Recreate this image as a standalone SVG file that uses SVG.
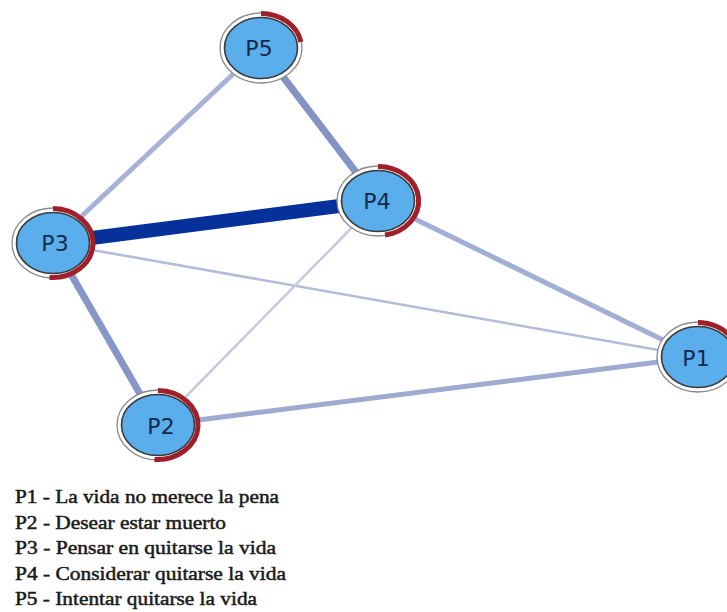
<svg xmlns="http://www.w3.org/2000/svg" width="727" height="612" viewBox="0 0 727 612">
<style>
.edge{fill:none;stroke-linecap:butt}
.outer{fill:#fff;stroke:#8a8a8a;stroke-width:1.3}
.red{fill:none;stroke:#a11f2a;stroke-width:5}
.inner{fill:#5aaeec;stroke:#3a3a3a;stroke-width:1.6}
.lbl{font-family:"DejaVu Sans",Verdana,sans-serif;font-size:22px;fill:#15284a;text-anchor:middle}
.leg{font-family:"Liberation Serif","Times New Roman",serif;font-size:19px;fill:#1a1a1a;stroke:#1a1a1a;stroke-width:0.5}
</style>
<rect width="727" height="612" fill="#fff"/>
<g id="connectors">
<line class="edge" x1="53" y1="243" x2="698" y2="357" stroke="#b3bcd8" stroke-width="2.5"/>
<line class="edge" x1="378" y1="201" x2="158" y2="425" stroke="#c3cbe0" stroke-width="2.5"/>
<line class="edge" x1="158" y1="425" x2="698" y2="357" stroke="#9dabd0" stroke-width="5"/>
<line class="edge" x1="378" y1="201" x2="698" y2="357" stroke="#a2afd4" stroke-width="5"/>
<line class="edge" x1="261" y1="48" x2="53" y2="243" stroke="#a7b3d4" stroke-width="5"/>
<line class="edge" x1="53" y1="243" x2="158" y2="425" stroke="#8696c6" stroke-width="7"/>
<line class="edge" x1="261" y1="48" x2="378" y2="201" stroke="#8393c4" stroke-width="7"/>
<line class="edge" x1="53" y1="243" x2="378" y2="201" stroke="#07319a" stroke-width="14"/>
</g>
<g id="P5">
<ellipse class="outer" cx="261" cy="48" rx="41" ry="35"/>
<path class="red" d="M261,13.5 A40.5,34.5 0 0 1 300.9,42"/>
<ellipse class="inner" cx="261" cy="48" rx="36.5" ry="30.5"/>
<text class="lbl" x="259" y="56">P5</text>
</g>
<g id="P4">
<ellipse class="outer" cx="378" cy="201" rx="41" ry="35"/>
<path class="red" d="M378,166.5 A40.5,34.5 0 0 1 385,235"/>
<ellipse class="inner" cx="378" cy="201" rx="36.5" ry="30.5"/>
<text class="lbl" x="377" y="209">P4</text>
</g>
<g id="P3">
<ellipse class="outer" cx="53" cy="243" rx="41" ry="35"/>
<path class="red" d="M53,208.5 A40.5,34.5 0 1 1 49.5,277.4"/>
<ellipse class="inner" cx="53" cy="243" rx="36.5" ry="30.5"/>
<text class="lbl" x="55" y="251">P3</text>
</g>
<g id="P2">
<ellipse class="outer" cx="158" cy="425" rx="41" ry="35"/>
<path class="red" d="M158,390.5 A40.5,34.5 0 1 1 154.5,459.4"/>
<ellipse class="inner" cx="158" cy="425" rx="36.5" ry="30.5"/>
<text class="lbl" x="161" y="434">P2</text>
</g>
<g id="P1">
<ellipse class="outer" cx="698" cy="357" rx="41" ry="35"/>
<path class="red" d="M698,322.5 A40.5,34.5 0 0 1 734.7,371.6"/>
<ellipse class="inner" cx="698" cy="357" rx="36.5" ry="30.5"/>
<text class="lbl" x="696" y="366">P1</text>
</g>
<g id="legend">
<text class="leg" x="15" y="503" textLength="264" lengthAdjust="spacingAndGlyphs">P1 - La vida no merece la pena</text>
<text class="leg" x="15" y="528.5" textLength="211" lengthAdjust="spacingAndGlyphs">P2 - Desear estar muerto</text>
<text class="leg" x="15" y="554" textLength="261" lengthAdjust="spacingAndGlyphs">P3 - Pensar en quitarse la vida</text>
<text class="leg" x="15" y="579.5" textLength="271" lengthAdjust="spacingAndGlyphs">P4 - Considerar quitarse la vida</text>
<text class="leg" x="15" y="605" textLength="242" lengthAdjust="spacingAndGlyphs">P5 - Intentar quitarse la vida</text>
</g>
</svg>
